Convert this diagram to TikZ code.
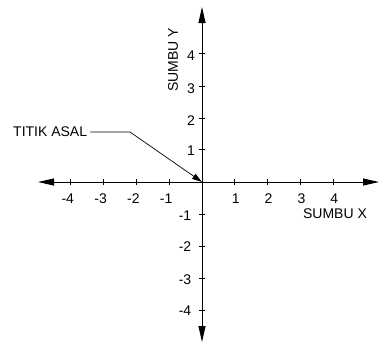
\documentclass[tikz,border=0pt]{standalone}
\usepackage{fontspec}
\setmainfont{Liberation Sans}
\usetikzlibrary{arrows.meta}
\begin{document}
\begin{tikzpicture}[x=1pt,y=-1pt,
  axis/.style={line width=0.9pt,-{Triangle[length=16pt,width=7pt]}},
  tick/.style={line width=0.7pt},
  lbl/.style={inner sep=0pt,font=\fontsize{14}{15}\selectfont},
  ptr/.style={line width=0.7pt,-{Triangle[length=10pt,width=6pt]}}]
\useasboundingbox (0,0) rectangle (379,343);
\coordinate (O) at (202,182);
\coordinate (xl) at (38,182);
\coordinate (xr) at (379,182);
\coordinate (yt) at (202,7);
\coordinate (yb) at (202,342);
\draw[axis] (O) -- (xr);
\draw[axis] (O) -- (xl);
\draw[axis] (O) -- (yt);
\draw[axis] (O) -- (yb);
% x ticks
\foreach \i in {1,2,3,4}{
  \draw[tick] (202+32.8*\i,179) -- (202+32.8*\i,185);
  \node[lbl] (xp\i) at (203+32.8*\i,199) {\i};
  \draw[tick] (202-32.8*\i,179) -- (202-32.8*\i,185);
  \node[lbl] (xn\i) at (199-32.8*\i,199) {-\i};
}
% y ticks
\foreach \i/\yp/\yn in {1/149/214.5,2/118.5/246,3/86.5/278.5,4/53.5/310}{
  \draw[tick] (199,\yp) -- (205,\yp);
  \node[lbl] (yp\i) at (191,\yp+2) {\i};
  \draw[tick] (199,\yn) -- (205,\yn);
  \node[lbl] (yn\i) at (185,\yn+1) {-\i};
}
\node[lbl,rotate=90] (sy) at (173,60) {SUMBU Y};
\node[lbl] (sx) at (335,214) {SUMBU X};
\node[lbl,anchor=west] (ta) at (13,132) {TITIK ASAL};
\coordinate (bend) at (130,132);
\draw[ptr] ([xshift=3pt]ta.east) -- (bend) -- (O);
\end{tikzpicture}
\end{document}
